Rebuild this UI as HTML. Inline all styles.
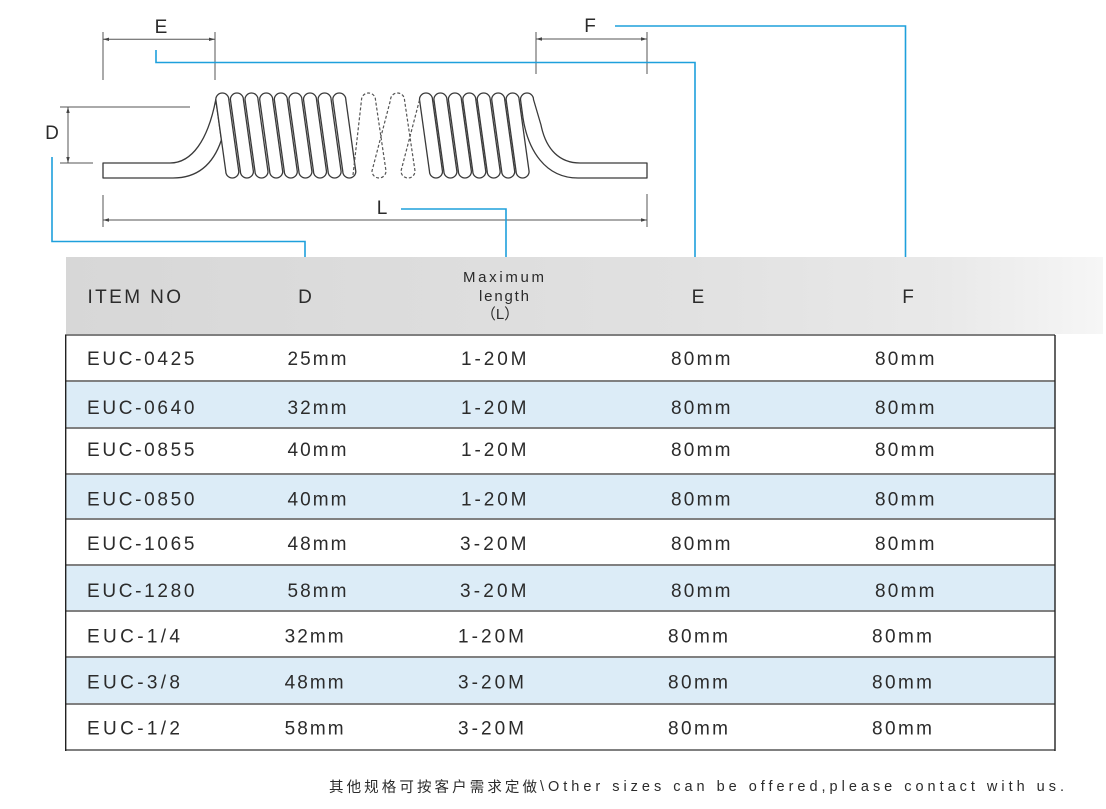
<!DOCTYPE html>
<html><head><meta charset="utf-8"><style>
html,body{margin:0;padding:0;background:#fff;}
svg{display:block;}
.t{font-family:"Liberation Sans","Noto Sans CJK SC",sans-serif;fill:#2b2b2b;}
</style></head><body>
<svg width="1106" height="809" viewBox="0 0 1106 809" xmlns="http://www.w3.org/2000/svg">
<defs>
<linearGradient id="hg" x1="0" x2="1" y1="0" y2="0">
<stop offset="0" stop-color="#d7d7d7"/>
<stop offset="0.6" stop-color="#e1e1e1"/>
<stop offset="0.85" stop-color="#e9e9e9"/>
<stop offset="1" stop-color="#f6f6f6"/>
</linearGradient>
</defs>
<rect width="1106" height="809" fill="#fff"/>

<!-- dimension lines -->
<g stroke="#555" stroke-width="1" fill="none">
<line x1="103" y1="32" x2="103" y2="80"/>
<line x1="215" y1="32" x2="215" y2="80"/>
<line x1="103" y1="39.3" x2="215" y2="39.3"/>
<line x1="536" y1="32" x2="536" y2="74"/>
<line x1="647" y1="32" x2="647" y2="74"/>
<line x1="536" y1="39" x2="647" y2="39"/>
<line x1="60" y1="107" x2="190" y2="107"/>
<line x1="60" y1="163" x2="93" y2="163"/>
<line x1="68" y1="107" x2="68" y2="163"/>
<line x1="103" y1="195" x2="103" y2="227"/>
<line x1="647" y1="194" x2="647" y2="227"/>
<line x1="103" y1="220" x2="647" y2="220"/>
</g>
<g fill="#444">
<polygon points="103,39.3 109,37.6 109,41"/>
<polygon points="215,39.3 209,37.6 209,41"/>
<polygon points="536,39 542,37.3 542,40.7"/>
<polygon points="647,39 641,37.3 641,40.7"/>
<polygon points="68,107 66.3,113 69.7,113"/>
<polygon points="68,163 66.3,157 69.7,157"/>
<polygon points="103,220 109,218.3 109,221.7"/>
<polygon points="647,220 641,218.3 641,221.7"/>
</g>

<!-- blue leader lines -->
<g stroke="#1ea0dc" stroke-width="1.6" fill="none">
<polyline points="156,50 156,62.5 695,62.5 695,264"/>
<polyline points="615,26 905.5,26 905.5,264"/>
<polyline points="52,157 52,241.5 305,241.5 305,264"/>
<polyline points="401,209 506,209 506,262"/>
</g>

<!-- diagram labels -->
<text class="t" x="161" y="33" font-size="19" text-anchor="middle">E</text>
<text class="t" x="590" y="32" font-size="19" text-anchor="middle">F</text>
<text class="t" x="52" y="139" font-size="19" text-anchor="middle">D</text>
<text class="t" x="382" y="214" font-size="19" text-anchor="middle">L</text>

<!-- coil tube -->
<g stroke="#3a3a3a" stroke-width="1.3" fill="#fff" stroke-linejoin="round">
<path d="M103,163 L170,163 C192,163 208,140 215.8,99.5 L221.4,140 C214,162 200,178 173,178 L103,178 Z"/>
<path d="M215.8,99.5 L225.8,171.5 A6.5,6.5 0 0 0 238.8,171.5 L228.8,99.5 A6.5,6.5 0 0 0 215.8,99.5Z"/>
<path d="M230.4,99.5 L240.4,171.5 A6.5,6.5 0 0 0 253.4,171.5 L243.4,99.5 A6.5,6.5 0 0 0 230.4,99.5Z"/>
<path d="M245,99.5 L255,171.5 A6.5,6.5 0 0 0 268,171.5 L258,99.5 A6.5,6.5 0 0 0 245,99.5Z"/>
<path d="M259.7,99.5 L269.7,171.5 A6.5,6.5 0 0 0 282.7,171.5 L272.7,99.5 A6.5,6.5 0 0 0 259.7,99.5Z"/>
<path d="M274.3,99.5 L284.3,171.5 A6.5,6.5 0 0 0 297.3,171.5 L287.3,99.5 A6.5,6.5 0 0 0 274.3,99.5Z"/>
<path d="M288.9,99.5 L298.9,171.5 A6.5,6.5 0 0 0 311.9,171.5 L301.9,99.5 A6.5,6.5 0 0 0 288.9,99.5Z"/>
<path d="M303.5,99.5 L313.5,171.5 A6.5,6.5 0 0 0 326.5,171.5 L316.5,99.5 A6.5,6.5 0 0 0 303.5,99.5Z"/>
<path d="M318.1,99.5 L328.1,171.5 A6.5,6.5 0 0 0 341.1,171.5 L331.1,99.5 A6.5,6.5 0 0 0 318.1,99.5Z"/>
<path d="M332.8,99.5 L342.8,171.5 A6.5,6.5 0 0 0 355.8,171.5 L345.8,99.5 A6.5,6.5 0 0 0 332.8,99.5Z"/>

<path d="M419.5,99.5 L429.5,171.5 A6.5,6.5 0 0 0 442.5,171.5 L432.5,99.5 A6.5,6.5 0 0 0 419.5,99.5Z"/>
<path d="M433.9,99.5 L443.9,171.5 A6.5,6.5 0 0 0 456.9,171.5 L446.9,99.5 A6.5,6.5 0 0 0 433.9,99.5Z"/>
<path d="M448.4,99.5 L458.4,171.5 A6.5,6.5 0 0 0 471.4,171.5 L461.4,99.5 A6.5,6.5 0 0 0 448.4,99.5Z"/>
<path d="M462.8,99.5 L472.8,171.5 A6.5,6.5 0 0 0 485.8,171.5 L475.8,99.5 A6.5,6.5 0 0 0 462.8,99.5Z"/>
<path d="M477.2,99.5 L487.2,171.5 A6.5,6.5 0 0 0 500.2,171.5 L490.2,99.5 A6.5,6.5 0 0 0 477.2,99.5Z"/>
<path d="M491.7,99.5 L501.7,171.5 A6.5,6.5 0 0 0 514.7,171.5 L504.7,99.5 A6.5,6.5 0 0 0 491.7,99.5Z"/>
<path d="M506.1,99.5 L516.1,171.5 A6.5,6.5 0 0 0 529.1,171.5 L519.1,99.5 A6.5,6.5 0 0 0 506.1,99.5Z"/>
<path d="M520.5,99.5 A6.5,6.5 0 0 1 533.5,99.5 L541,125 C546,150 560,163 580,163 L647,163 L647,178 L578,178 C545,178 528,150 523,118 Z"/>
</g>
<!-- dashed section -->
<path d="M353,175 L361.5,100 A7,7 0 0 1 375.5,100 L386,171 A7,7 0 0 1 372,171 L390.5,100 A7,7 0 0 1 404.5,100 L415,171 A7,7 0 0 1 401,171 L419.5,100" fill="none" stroke="#555" stroke-width="1.2" stroke-dasharray="3 2"/>

<!-- table header -->
<rect x="66" y="257" width="1037" height="77" fill="url(#hg)"/>
<text class="t" x="87.5" y="303" font-size="19" textLength="93.5" lengthAdjust="spacing">ITEM NO</text>
<text class="t" x="305" y="303" font-size="19" text-anchor="middle">D</text>
<text class="t" x="463" y="282" font-size="15" textLength="81" lengthAdjust="spacing">Maximum</text>
<text class="t" x="479" y="301" font-size="15" textLength="50" lengthAdjust="spacing">length</text>
<text class="t" x="500" y="319" font-size="15" text-anchor="middle">（L）</text>
<text class="t" x="698" y="303" font-size="19" text-anchor="middle">E</text>
<text class="t" x="908" y="303" font-size="19" text-anchor="middle">F</text>

<!-- rows -->
<rect x="65" y="335" width="990" height="46" fill="#fff"/>
<rect x="65" y="381" width="990" height="47" fill="#dcecf7"/>
<rect x="65" y="428" width="990" height="46" fill="#fff"/>
<rect x="65" y="474" width="990" height="45" fill="#dcecf7"/>
<rect x="65" y="519" width="990" height="46" fill="#fff"/>
<rect x="65" y="565" width="990" height="46" fill="#dcecf7"/>
<rect x="65" y="611" width="990" height="46" fill="#fff"/>
<rect x="65" y="657" width="990" height="47" fill="#dcecf7"/>
<rect x="65" y="704" width="990" height="46" fill="#fff"/>

<g stroke="#808080" stroke-width="2">
<line x1="65" y1="381" x2="1055" y2="381"/>
<line x1="65" y1="428" x2="1055" y2="428"/>
<line x1="65" y1="474" x2="1055" y2="474"/>
<line x1="65" y1="519" x2="1055" y2="519"/>
<line x1="65" y1="565" x2="1055" y2="565"/>
<line x1="65" y1="611" x2="1055" y2="611"/>
<line x1="65" y1="657" x2="1055" y2="657"/>
<line x1="65" y1="704" x2="1055" y2="704"/>
<line x1="65" y1="750" x2="1055" y2="750"/>
</g>
<line x1="65" y1="335" x2="1055" y2="335" stroke="#555" stroke-width="1.6"/>
<line x1="65.7" y1="335" x2="65.7" y2="751" stroke="#222" stroke-width="1.4"/>
<line x1="1055" y1="335" x2="1055" y2="751" stroke="#222" stroke-width="1.4"/>

<g class="t" font-size="19">
<text class="t" x="87" y="365" textLength="107.5" lengthAdjust="spacing">EUC-0425</text>
<text class="t" x="287.5" y="365" textLength="59" lengthAdjust="spacing">25mm</text>
<text class="t" x="461" y="365" textLength="65.5" lengthAdjust="spacing">1-20M</text>
<text class="t" x="671" y="365" textLength="59.5" lengthAdjust="spacing">80mm</text>
<text class="t" x="875" y="365" textLength="59.5" lengthAdjust="spacing">80mm</text>

<text class="t" x="87" y="414" textLength="107.5" lengthAdjust="spacing">EUC-0640</text>
<text class="t" x="287.5" y="414" textLength="59" lengthAdjust="spacing">32mm</text>
<text class="t" x="461" y="414" textLength="65.5" lengthAdjust="spacing">1-20M</text>
<text class="t" x="671" y="414" textLength="59.5" lengthAdjust="spacing">80mm</text>
<text class="t" x="875" y="414" textLength="59.5" lengthAdjust="spacing">80mm</text>

<text class="t" x="87" y="456" textLength="107.5" lengthAdjust="spacing">EUC-0855</text>
<text class="t" x="287.5" y="456" textLength="59" lengthAdjust="spacing">40mm</text>
<text class="t" x="461" y="456" textLength="65.5" lengthAdjust="spacing">1-20M</text>
<text class="t" x="671" y="456" textLength="59.5" lengthAdjust="spacing">80mm</text>
<text class="t" x="875" y="456" textLength="59.5" lengthAdjust="spacing">80mm</text>

<text class="t" x="87" y="505.5" textLength="107.5" lengthAdjust="spacing">EUC-0850</text>
<text class="t" x="287.5" y="505.5" textLength="59" lengthAdjust="spacing">40mm</text>
<text class="t" x="461" y="505.5" textLength="65.5" lengthAdjust="spacing">1-20M</text>
<text class="t" x="671" y="505.5" textLength="59.5" lengthAdjust="spacing">80mm</text>
<text class="t" x="875" y="505.5" textLength="59.5" lengthAdjust="spacing">80mm</text>

<text class="t" x="87" y="550" textLength="107.5" lengthAdjust="spacing">EUC-1065</text>
<text class="t" x="287.5" y="550" textLength="59" lengthAdjust="spacing">48mm</text>
<text class="t" x="460" y="550" textLength="66.5" lengthAdjust="spacing">3-20M</text>
<text class="t" x="671" y="550" textLength="59.5" lengthAdjust="spacing">80mm</text>
<text class="t" x="875" y="550" textLength="59.5" lengthAdjust="spacing">80mm</text>

<text class="t" x="87" y="597" textLength="107.5" lengthAdjust="spacing">EUC-1280</text>
<text class="t" x="287.5" y="597" textLength="59" lengthAdjust="spacing">58mm</text>
<text class="t" x="460" y="597" textLength="66.5" lengthAdjust="spacing">3-20M</text>
<text class="t" x="671" y="597" textLength="59.5" lengthAdjust="spacing">80mm</text>
<text class="t" x="875" y="597" textLength="59.5" lengthAdjust="spacing">80mm</text>

<text class="t" x="87" y="642.5" textLength="93" lengthAdjust="spacing">EUC-1/4</text>
<text class="t" x="284.6" y="642.5" textLength="59" lengthAdjust="spacing">32mm</text>
<text class="t" x="458" y="642.5" textLength="66" lengthAdjust="spacing">1-20M</text>
<text class="t" x="668" y="642.5" textLength="60" lengthAdjust="spacing">80mm</text>
<text class="t" x="872" y="642.5" textLength="60" lengthAdjust="spacing">80mm</text>

<text class="t" x="87" y="688.5" textLength="93" lengthAdjust="spacing">EUC-3/8</text>
<text class="t" x="284.6" y="688.5" textLength="59" lengthAdjust="spacing">48mm</text>
<text class="t" x="458" y="688.5" textLength="66" lengthAdjust="spacing">3-20M</text>
<text class="t" x="668" y="688.5" textLength="60" lengthAdjust="spacing">80mm</text>
<text class="t" x="872" y="688.5" textLength="60" lengthAdjust="spacing">80mm</text>

<text class="t" x="87" y="734.5" textLength="93" lengthAdjust="spacing">EUC-1/2</text>
<text class="t" x="284.6" y="734.5" textLength="59" lengthAdjust="spacing">58mm</text>
<text class="t" x="458" y="734.5" textLength="66" lengthAdjust="spacing">3-20M</text>
<text class="t" x="668" y="734.5" textLength="60" lengthAdjust="spacing">80mm</text>
<text class="t" x="872" y="734.5" textLength="60" lengthAdjust="spacing">80mm</text>
</g>

<!-- footer -->
<text class="t" x="329" y="792" font-size="14.5" textLength="208" lengthAdjust="spacing" style="font-family:'Noto Sans CJK SC',sans-serif">其他规格可按客户需求定做</text>
<text class="t" x="540" y="791" font-size="14.5" textLength="524" lengthAdjust="spacing">\Other sizes can be offered,please contact with us.</text>
</svg>
</body></html>
